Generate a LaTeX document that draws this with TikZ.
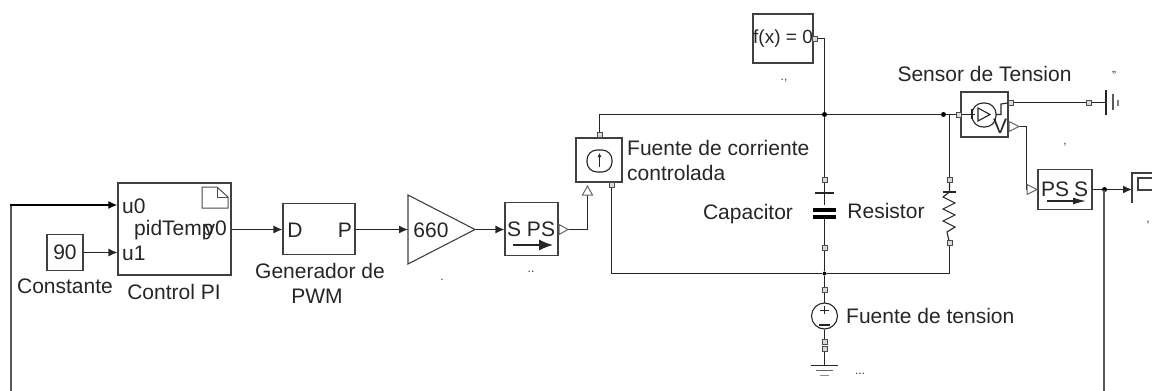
\documentclass[tikz,border=0pt]{standalone}
\usepackage{fontspec}
\setmainfont{Liberation Sans}
\usetikzlibrary{arrows.meta,calc}
\tikzset{
  lbl/.style={inner sep=0pt,font=\fontsize{21}{25}\selectfont,text=black!85},
  lblsm/.style={inner sep=0pt,font=\fontsize{19}{22}\selectfont,text=black!85},
  tiny/.style={inner sep=0pt,font=\fontsize{12}{14}\selectfont,text=black!80},
  wire/.style={draw=black!85,line width=1.1pt},
  sig/.style={wire,-{Latex[length=9pt,width=8pt]}},
  port/.style={draw=black!70,line width=.9pt,fill=black!15,minimum size=5pt,inner sep=0pt,rectangle},
  dotj/.style={circle,fill=black,minimum size=5pt,inner sep=0pt},
  tri/.style={draw=black!60,line width=1pt,fill=white},
  elem/.style={draw=black!85,line width=1.1pt},
}
\newcommand{\boxat}[5]{\node[draw=black!75,line width=1.1pt,fill=white,inner sep=0pt,minimum width=#4pt,minimum height=#5pt] (#1) at (#2,#3) {};}
\begin{document}
\begin{tikzpicture}[x=1pt,y=-1pt]
\useasboundingbox (0,0) rectangle (1152,391);
% blocks
\boxat{ctrl}{174.5}{229}{113}{92}
\boxat{cons}{65}{252.5}{36}{36}
\boxat{pwm}{319}{229}{72}{51}
\boxat{spsb}{531.5}{229}{53}{53}
\boxat{isrc}{599}{160}{46}{44}
\boxat{fx}{783}{38.5}{60}{49}
\boxat{sens}{984.5}{114.5}{47}{45}
\boxat{pssb}{1065}{189.5}{54}{40}
\coordinate (tipg) at (475,229.5);
\draw[black!75,line width=1.1pt,fill=white] (408,195) -- (tipg) -- (408,264) -- cycle;
\coordinate (gainin) at (408,229.5);
% texts inside blocks
\node[lbl] (t90) at (65,252) {90};
\node[lbl,anchor=west] (tu0) at (122,206) {u0};
\node[lbl,anchor=west] (tu1) at (122,253) {u1};
\node[lbl,anchor=west] (tpid) at (134,230) {pidTemp};
\node[lbl,anchor=east] (ty0) at (227,230) {y0};
\node[lbl] (tD) at (295,230) {D};
\node[lbl] (tP) at (345,230) {P};
\node[lbl] (t660) at (431,230) {660};
\node[lbl] (tS1) at (514,229) {S};
\node[lbl] (tPS1) at (541,229) {PS};
\node[lblsm] (tfx) at (783,39) {f(x) = 0};
\node[lbl] (tPS2) at (1055,189) {PS};
\node[lbl] (tS2) at (1081,189) {S};
\node[lbl] (tV) at (1000,126) {V};
% note icon
\draw[black!70,line width=1pt] (202,187) -- (217,187) -- (228,197) -- (228,208) -- (202,208) -- cycle;
\draw[black!70,line width=1pt] (217,187) -- (217,197) -- (228,197);
% arrows in S-PS blocks
\draw[black!85,line width=1.2pt,-{Latex[length=14pt,width=11pt]}] (513,245) -- (553,245);
\draw[black!85,line width=1.2pt,-{Latex[length=13pt,width=7pt]}] (1047,201) -- (1086,201);
% labels
\node[lbl] (lcons) at (65,286) {Constante};
\node[lbl] (lctrl) at (174,292) {Control PI};
\node[lbl] (lgen) at (320,271) {Generador de};
\node[lbl] (lpwm) at (317,296) {PWM};
\node[lbl,anchor=west] (lf1) at (627,148) {Fuente de corriente};
\node[lbl,anchor=west] (lf2) at (627,173) {controlada};
\node[lbl] (lcap) at (748,214) {Capacitor};
\node[lbl] (lres) at (886,211) {Resistor};
\node[lbl] (lsen) at (984.5,74) {Sensor de Tension};
\node[lbl,anchor=west] (lft) at (846,316) {Fuente de tension};
% small marks
\node[tiny] (m1) at (442,280) {.};
\node[tiny] (m2) at (531,272) {..};
\node[tiny] (m3) at (784,81) {.,};
\node[tiny] (m4) at (1114,73) {,,};
\node[tiny] (m5) at (1065,145) {,};
\node[tiny] (m6) at (1148,223) {,};
\node[tiny] (m7) at (860,374) {...};
% coordinates / ports
\coordinate (fbk) at (11,205);
\coordinate (fbkb) at (11,391);
\coordinate (u0) at (ctrl.west |- fbk);
\coordinate (u1) at (ctrl.west |- cons);
\coordinate (y0) at (ctrl.east |- gainin);
\coordinate (d) at (pwm.west |- gainin);
\coordinate (spsin) at (spsb.west |- gainin);
\node[port] (pi1) at (599.5,135) {};
\node[port] (pi2) at (611.5,185) {};
\node[port] (pfx) at (815,38.5) {};
\coordinate (c1) at (824.5,38.5);
\node[dotj] (j1) at (824.5,114.5) {};
\node[dotj] (j2) at (943.5,114.5) {};
\coordinate (r0) at (949.5,114.5);
\node[port] (pc1) at (824.5,180) {};
\node[port] (pc2) at (824.5,248) {};
\node[dotj,minimum size=4pt] (j3) at (824.5,273.5) {};
\node[port] (ps1) at (824.5,290) {};
\node[port] (ps2) at (824.5,342) {};
\node[port] (ps3) at (824.5,349) {};
\node[port] (pr1) at (949.5,180) {};
\node[port] (pr2) at (949.5,243) {};
\coordinate (r3) at (949.5,273.5);
\node[port] (psen1) at (959,114.5) {};
\node[port] (psen2) at (1011,102.5) {};
\node[port] (pgnd) at (1089,102.5) {};
\coordinate (gnd) at (1106,102.5);
\coordinate (iup) at (599.5,114.5);
\coordinate (ilow) at (611.5,273.5);
\node[dotj] (j4) at (1104.5,189.5) {};
\coordinate (scope) at (1132,189.5);
\coordinate (fbkr) at (1104,391);
% wires
\draw[wire,line width=2pt,draw=black!65] (fbkb) -- (fbk);
\draw[sig,draw=black,line width=2pt] (10,205) -- (u0);
\draw[sig] (cons.east) -- (u1);
\draw[sig] (y0) -- (d);
\draw[sig] (pwm.east |- gainin) -- (gainin);
\draw[sig] (tipg) -- (spsin);
\draw[wire] (pi1) -- (iup) -- (j1) -- (j2) -- (psen1);
\draw[wire] (pfx) -- (c1) -- (j1) -- (pc1);
\draw[wire] (pc2) -- (j3) -- (ps1);
\draw[wire] (pi2) -- (ilow) -- (j3) -- (r3) -- (pr2);
\draw[wire] (r0) -- (pr1);
\draw[wire] (psen2) -- (pgnd) -- (gnd);
\draw[wire] (pssb.east) -- (j4);
\draw[sig] (j4) -- (scope);
\draw[wire,line width=2pt,draw=black!65] (1104,190) -- (fbkr);
% physical signal ports and wires
\coordinate (sp1) at (568,229.5);
\coordinate (sp2) at (587.5,229.5);
\coordinate (sp3) at (587.5,195);
\draw[wire] (sp1) -- (sp2) -- (sp3);
\draw[tri] (559,224.5) -- (568,229.5) -- (559,234.5) -- cycle;
\draw[tri] (582.5,195) -- (587.5,186) -- (592.5,195) -- cycle;
\coordinate (vp) at (1019,126.5);
\coordinate (vq) at (1026.5,126.5);
\coordinate (vr) at (1026.5,189.5);
\coordinate (vs) at (1027,189.5);
\draw[wire] (vp) -- (vq) -- (vr) -- (vs);
\draw[tri] (1009,121.5) -- (1019,126.5) -- (1009,131.5) -- cycle;
\draw[tri] (1027,184.5) -- (1037,189.5) -- (1027,194.5) -- cycle;
% controlled source glyph
\draw[black!85,line width=1.1pt,rounded corners=10pt] (587,150) rectangle (612,172);
\draw[black!85,line width=1.1pt,-{Latex[length=4pt,width=4pt]}] (599.5,167) -- (599.5,153);
% sensor glyph
\draw[black!85,line width=1.1pt,rounded corners=11pt] (972,103) rectangle (996,127);
\draw[black!85,line width=1.1pt] (978,108) -- (990,114.5) -- (978,121) -- cycle;
\draw[elem] (psen1) -- (975,114.5);
\draw[elem] (996,114.5) -- (1001,114.5) -- (1001,104) -- (psen2);
\draw[elem] (972,109) -- (972,119);
% capacitor
\draw[elem] (pc1) -- (824.5,205);
\draw[elem] (815,193) -- (834,193);
\fill[white] (810,205) rectangle (838,222);
\fill[black] (813,208) rectangle (836,212);
\fill[black] (813,215) rectangle (836,219);
\draw[elem] (824.5,219) -- (pc2);
% resistor
\draw[elem] (pr1) -- (949.5,192) -- (943,197) -- (955,203) -- (943,209) -- (955,215) -- (943,221) -- (955,227) -- (947,232) -- (pr2);
\draw[elem] (943,192) -- (956,192);
% voltage source
\draw[elem] (ps1) -- (824.5,304);
\node[draw=black!85,line width=1.1pt,circle,minimum size=26pt,inner sep=0pt,fill=white] (vsrc) at (824.5,316) {};
\draw[black!85,line width=1pt] (820,310) -- (829,310) (824.5,306) -- (824.5,314);
\draw[black!85,line width=1.3pt] (819,325) -- (830,325);
\draw[elem] (vsrc.south) -- (ps2) (ps3) -- (824.5,365);
% electrical grounds
\draw[black!85,line width=1.2pt] (811,365.5) -- (838,365.5);
\draw[black!60,line width=1.1pt] (816,370.5) -- (833,370.5);
\draw[black!45,line width=1.1pt] (820,375.5) -- (829,375.5);
\draw[black!85,line width=1.2pt] (1106,90) -- (1106,115);
\draw[black!65,line width=1.2pt] (1113,94) -- (1113,110);
\draw[black!50,line width=1.2pt] (1118,100) -- (1118,106);
% scope
\draw[black!75,line width=1.1pt] (1132,203) -- (1132,173) -- (1152,173);
\draw[black!75,line width=1.1pt] (1152,178) -- (1138,178) -- (1138,190) -- (1152,190);
\end{tikzpicture}
\end{document}
